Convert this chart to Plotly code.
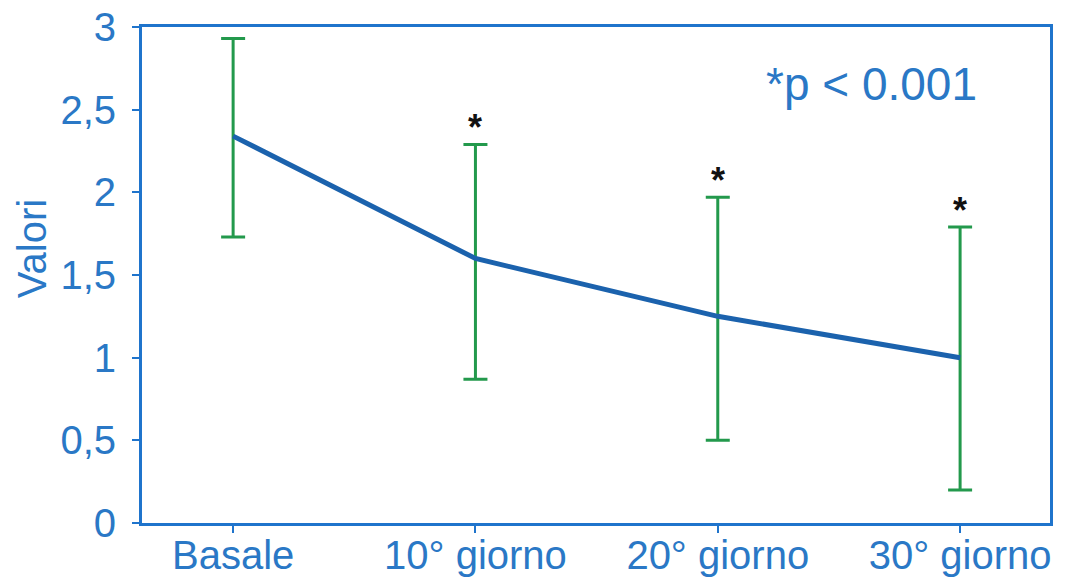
import plotly.graph_objects as go

categories = ["Basale", "10° giorno", "20° giorno", "30° giorno"]
means = [2.34, 1.60, 1.25, 1.00]
upper = [2.93, 2.29, 1.97, 1.79]
lower = [1.73, 0.87, 0.50, 0.20]
significant = [False, True, True, True]
y_ticks = [0, 0.5, 1, 1.5, 2, 2.5, 3]
y_ticklabels = ["0", "0,5", "1", "1,5", "2", "2,5", "3"]

err_plus = [u - m for u, m in zip(upper, means)]
err_minus = [m - l for m, l in zip(means, lower)]
xs = list(range(len(categories)))

AXIS = "#1f74cc"
TEXT = "#2a78c6"
LINE = "#1b62ad"
GREEN = "#23994c"
FONT = "Liberation Sans, Arial, sans-serif"
FS = 40

fig = go.Figure()
fig.add_trace(go.Scatter(
    x=xs, y=means, mode="lines",
    line=dict(color=LINE, width=5),
    error_y=dict(type="data", symmetric=False, array=err_plus, arrayminus=err_minus,
                 color=GREEN, thickness=3, width=12),
    showlegend=False, hoverinfo="skip",
))

annotations = []
for x, u, s in zip(xs, upper, significant):
    if s:
        annotations.append(dict(x=x, y=u, xref="x", yref="y", text="<b>*</b>", showarrow=False,
                                yshift=17, font=dict(family=FONT, size=36, color="#111111")))
annotations.append(dict(x=0.803, y=0.885, xref="paper", yref="paper", text="*p < 0.001",
                        showarrow=False, xanchor="center", yanchor="middle",
                        font=dict(family=FONT, size=46, color=TEXT)))
annotations.append(dict(x=0, y=0.552, xref="paper", yref="paper", text="Valori",
                        textangle=-90, showarrow=False, xanchor="center", yanchor="middle",
                        xshift=-110, font=dict(family=FONT, size=FS, color=TEXT)))

fig.update_layout(
    width=1064, height=574,
    margin=dict(l=134, r=22, t=19, b=59, autoexpand=False),
    paper_bgcolor="white", plot_bgcolor="white",
    font=dict(family=FONT, color=TEXT, size=FS),
    annotations=annotations,
    xaxis=dict(range=[-0.376, 3.371], tickmode="array", tickvals=xs, ticktext=categories,
               showline=True, linecolor=AXIS, linewidth=3, mirror=True,
               ticks="outside", ticklen=7, tickwidth=2, tickcolor=AXIS,
               ticklabelstandoff=-12, automargin=False, ticklabeloverflow="allow",
               showgrid=False, zeroline=False, tickfont=dict(size=FS, color=TEXT)),
    yaxis=dict(range=[0, 3], tickmode="array", tickvals=y_ticks, ticktext=y_ticklabels,
               showline=True, linecolor=AXIS, linewidth=3, mirror=True,
               ticks="outside", ticklen=7, tickwidth=2, tickcolor=AXIS,
               ticklabelstandoff=8, automargin=False, ticklabeloverflow="allow",
               showgrid=False, zeroline=False, tickfont=dict(size=FS, color=TEXT)),
)

fig.write_html("out.html")
